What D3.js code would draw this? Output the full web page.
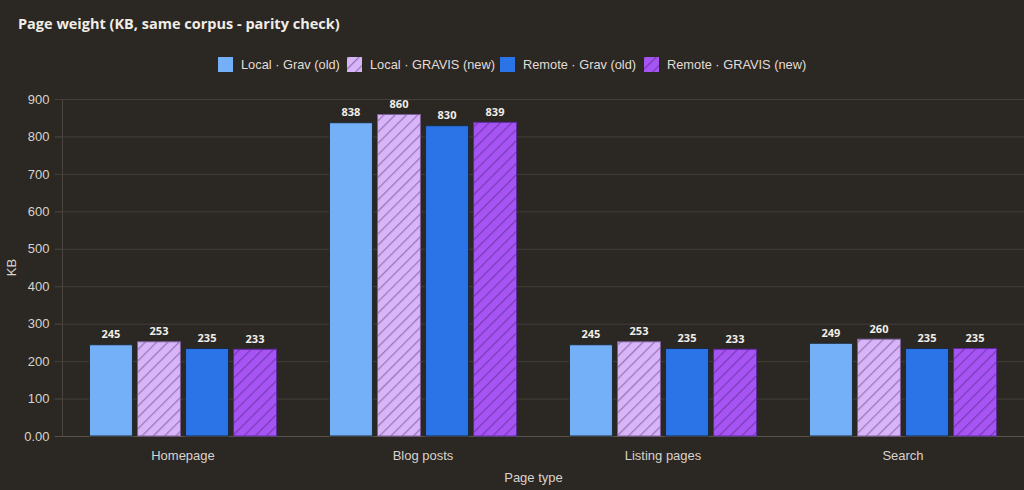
<!DOCTYPE html>
<html>
<head>
<meta charset="utf-8">
<script src="https://cdn.jsdelivr.net/npm/d3@7"></script>
<style>
    html, body { margin: 0; padding: 0; background: #2b2723; }
    svg { display: block; }
</style>
</head>
<body>
<div id="chart"></div>
<script>
var categories = ["Homepage", "Blog posts", "Listing pages", "Search"];
var seriesNames = ["Local · Grav (old)", "Local · GRAVIS (new)", "Remote · Grav (old)", "Remote · GRAVIS (new)"];
var localGrav = [245, 838, 245, 249];
var localGravis = [253, 860, 253, 260];
var remoteGrav = [235, 830, 235, 235];
var remoteGravis = [233, 839, 233, 235];
var yTicks = [0, 100, 200, 300, 400, 500, 600, 700, 800, 900];

var series = [localGrav, localGravis, remoteGrav, remoteGravis];
var fills = ["#74b0f8", "#d7b5f8", "#2b74e8", "#a655f4"];
var strokes = ["#1f2b3a", "#7c5f99", "#1a2a44", "#5e2aa0"];
var hatched = [false, true, false, true];

var width = 1024;
var height = 490;
var margin = { top: 99, right: 1, bottom: 54, left: 63 };

var svg = d3.select("#chart").append("svg")
    .attr("width", width)
    .attr("height", height);

// hatch patterns for GRAVIS series
var defs = svg.append("defs");
[1, 3].forEach(function (i) {
    var p = defs.append("pattern")
        .attr("id", "hatch" + i)
        .attr("patternUnits", "userSpaceOnUse")
        .attr("width", 8)
        .attr("height", 8)
        .attr("patternTransform", "rotate(45)");
    p.append("rect").attr("width", 8).attr("height", 8).attr("fill", fills[i]);
    p.append("line")
        .attr("x1", 0).attr("y1", 0).attr("x2", 0).attr("y2", 8)
        .attr("stroke", "rgba(50,15,80,0.38)")
        .attr("stroke-width", 2.5);
});

var x = d3.scaleBand()
    .domain(categories)
    .range([margin.left, width - margin.right]);

var x1 = d3.scaleBand()
    .domain(d3.range(series.length))
    .range([26, x.bandwidth() - 26])
    .paddingInner(0.085);

var y = d3.scaleLinear()
    .domain([0, 900])
    .range([height - margin.bottom, margin.top]);

// gridlines
svg.append("g")
    .selectAll("line")
    .data(yTicks.slice(1))
    .join("line")
    .attr("x1", margin.left - 8)
    .attr("x2", width)
    .attr("y1", d => y(d) + 0.5)
    .attr("y2", d => y(d) + 0.5)
    .attr("stroke", "#433e38")
    .attr("stroke-width", 1);

// y axis
svg.append("g")
    .attr("transform", `translate(${margin.left - 0.5},0)`)
    .call(d3.axisLeft(y).tickValues(yTicks).tickSize(8).tickPadding(5)
        .tickFormat(d => d === 0 ? "0.00" : d))
    .call(g => g.select(".domain").attr("stroke", "#4a453f").attr("d", `M0,${margin.top}V${height - margin.bottom}`))
    .call(g => g.selectAll(".tick line").attr("stroke", "#433e38"))
    .call(g => g.selectAll("text")
        .attr("fill", "#d8d3cc")
        .attr("font-family", "'Liberation Sans', Arial, sans-serif")
        .attr("font-size", 13));

// x axis baseline
svg.append("line")
    .attr("x1", margin.left - 8)
    .attr("x2", width)
    .attr("y1", y(0) + 0.5)
    .attr("y2", y(0) + 0.5)
    .attr("stroke", "#5a544d");

// bars
var groups = svg.append("g")
    .selectAll("g")
    .data(series)
    .join("g");

groups.selectAll("rect")
    .data((s, i) => s.map((v, j) => ({ v: v, cat: categories[j], si: i })))
    .join("rect")
    .attr("x", d => x(d.cat) + x1(d.si) + 0.5)
    .attr("y", d => y(d.v) + 0.5)
    .attr("width", x1.bandwidth() - 1)
    .attr("height", d => y(0) - y(d.v) - 0.5)
    .attr("fill", d => hatched[d.si] ? `url(#hatch${d.si})` : fills[d.si])
    .attr("stroke", d => strokes[d.si])
    .attr("stroke-width", 1);

// value labels
groups.selectAll("text")
    .data((s, i) => s.map((v, j) => ({ v: v, cat: categories[j], si: i })))
    .join("text")
    .attr("x", d => x(d.cat) + x1(d.si) + x1.bandwidth() / 2)
    .attr("y", d => y(d.v) - 6)
    .attr("text-anchor", "middle")
    .attr("font-family", "'Open Sans', 'Noto Sans', sans-serif")
    .attr("font-weight", "bold")
    .attr("font-size", 11)
    .attr("fill", "#f2eee8")
    .text(d => d.v);

// category labels
svg.append("g")
    .selectAll("text")
    .data(categories)
    .join("text")
    .attr("x", d => x(d) + x.bandwidth() / 2)
    .attr("y", 460)
    .attr("text-anchor", "middle")
    .attr("font-family", "'Liberation Sans', Arial, sans-serif")
    .attr("font-size", 13)
    .attr("fill", "#d8d3cc")
    .text(d => d);

// axis titles
svg.append("text")
    .attr("x", (margin.left + width) / 2 - 10)
    .attr("y", 482)
    .attr("text-anchor", "middle")
    .attr("font-family", "'Liberation Sans', Arial, sans-serif")
    .attr("font-size", 13)
    .attr("fill", "#d8d3cc")
    .text("Page type");

svg.append("text")
    .attr("transform", `translate(16,${(margin.top + height - margin.bottom) / 2}) rotate(-90)`)
    .attr("text-anchor", "middle")
    .attr("font-family", "'Liberation Sans', Arial, sans-serif")
    .attr("font-size", 13)
    .attr("fill", "#d8d3cc")
    .text("KB");

// title
svg.append("text")
    .attr("x", 18)
    .attr("y", 29)
    .attr("font-family", "'Open Sans', 'Noto Sans', sans-serif")
    .attr("font-weight", "bold")
    .attr("font-size", 14.5)
    .attr("fill", "#f0ece6")
    .text("Page weight (KB, same corpus - parity check)");

// legend
var legendX = [218, 347, 500, 644];
var legend = svg.append("g")
    .selectAll("g")
    .data(seriesNames)
    .join("g")
    .attr("transform", (d, i) => `translate(${legendX[i]},57)`);

legend.append("rect")
    .attr("width", 15)
    .attr("height", 15)
    .attr("fill", (d, i) => hatched[i] ? `url(#hatch${i})` : fills[i]);

legend.append("text")
    .attr("x", 23)
    .attr("y", 12)
    .attr("font-family", "'Liberation Sans', Arial, sans-serif")
    .attr("font-size", 12.8)
    .attr("fill", "#e2ddd6")
    .text(d => d);
</script>
</body>
</html>
